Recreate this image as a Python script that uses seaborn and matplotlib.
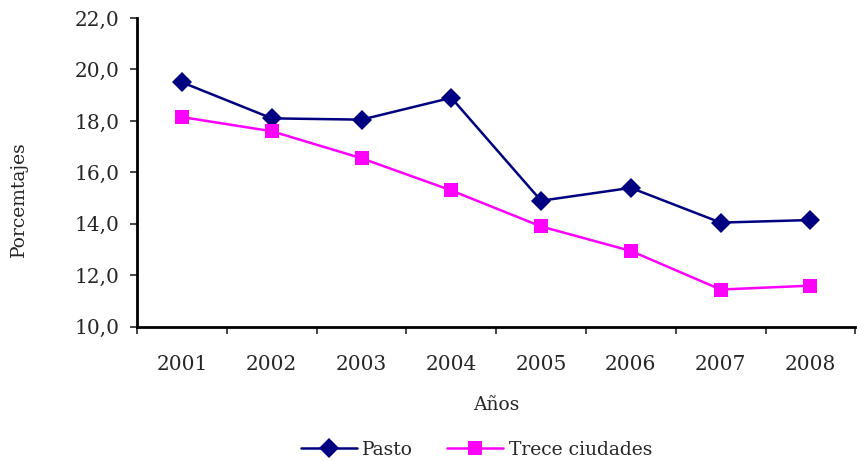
import pandas as pd
import matplotlib.pyplot as plt
import seaborn as sns
from matplotlib.ticker import FuncFormatter

# Datos
anios = ["2001", "2002", "2003", "2004", "2005", "2006", "2007", "2008"]
pasto = [19.5, 18.1, 18.05, 18.9, 14.9, 15.4, 14.05, 14.15]
trece_ciudades = [18.15, 17.6, 16.55, 15.3, 13.9, 12.95, 11.45, 11.6]

df = pd.DataFrame({
    "Año": anios * 2,
    "Porcentaje": pasto + trece_ciudades,
    "Serie": ["Pasto"] * len(anios) + ["Trece ciudades"] * len(anios),
})
df["x"] = df["Año"].map({a: i for i, a in enumerate(anios)})

sns.set_style("white")
plt.rcParams["font.family"] = ["DejaVu Serif"]

colores = {"Pasto": "#000080", "Trece ciudades": "#FF00FF"}
marcadores = {"Pasto": "D", "Trece ciudades": "s"}

fig = plt.figure(figsize=(8.57, 4.61), dpi=100)
ax = fig.add_axes([0.16, 0.291, 0.838, 0.67])
sns.lineplot(data=df, x="x", y="Porcentaje", hue="Serie", style="Serie",
             palette=colores, markers=marcadores, dashes=False,
             markersize=10, linewidth=1.8, markeredgewidth=0, ax=ax)

ax.set_xlim(-0.5, 7.5)
ax.set_ylim(10, 22)
ax.set_yticks([10, 12, 14, 16, 18, 20, 22])
ax.yaxis.set_major_formatter(FuncFormatter(lambda v, p: f"{v:.1f}".replace(".", ",")))
ax.set_xticks(range(len(anios)))
ax.set_xticklabels(anios)
ax.set_xticks([i - 0.5 for i in range(len(anios) + 1)], minor=True)
ax.tick_params(axis="x", which="major", length=0, pad=20, labelsize=14.5)
ax.tick_params(axis="x", which="minor", length=5, width=1.2, direction="out", bottom=True)
ax.tick_params(axis="y", length=5, width=1.2, direction="out", left=True, labelsize=14.5, pad=8)

for s in ["top", "right"]:
    ax.spines[s].set_visible(False)
for s in ["left", "bottom"]:
    ax.spines[s].set_linewidth(2)
    ax.spines[s].set_color("black")

ax.set_xlabel("Años", fontsize=13.5)
ax.xaxis.set_label_coords(0.5, -0.225)
ax.set_ylabel("Porcemtajes", fontsize=13.5)
ax.yaxis.set_label_coords(-0.152, 0.414)

ax.get_legend().remove()
handles, labels = ax.get_legend_handles_labels()
fig.legend(handles, labels, loc="center", bbox_to_anchor=(0.556, 0.024),
           ncol=2, frameon=False, fontsize=13.5, handlelength=3,
           columnspacing=1.8, handletextpad=0.3, borderaxespad=0)

plt.savefig("out.png", dpi=100)
plt.close()
